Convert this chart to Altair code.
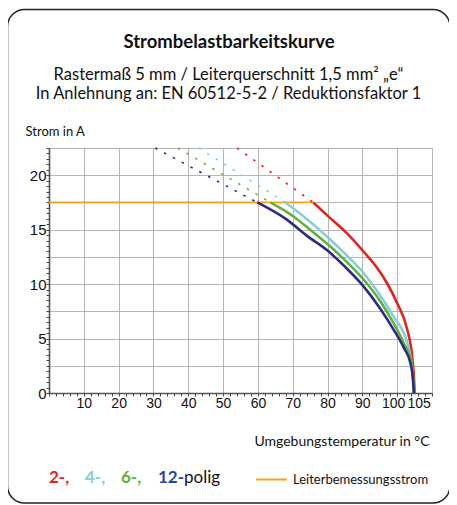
import altair as alt
import pandas as pd

# ---- data ----
series_names = ["2", "4", "6", "12"]
series_colors = ["#e3241b", "#86cfd4", "#62b23a", "#2e2a80"]

temp_2 = [75.9, 80.3, 85.6, 90.4, 94.0, 97.1, 100.0, 102.9, 104.3, 104.9, 105.0]
amp_2 = [17.5, 16.2, 14.66, 12.97, 11.6, 10.08, 8.25, 5.8, 3.35, 0.9, 0.0]

temp_4 = [67.9, 72.0, 79.9, 85.0, 90.4, 95.0, 99.0, 102.9, 104.4, 104.8]
amp_4 = [17.5, 16.5, 14.35, 12.8, 11.0, 9.0, 7.0, 4.6, 2.0, 0.0]

temp_6 = [63.6, 69.8, 75.0, 79.9, 85.0, 90.4, 95.0, 99.0, 102.0, 104.2, 104.8]
amp_6 = [17.5, 16.3, 15.0, 13.7, 12.2, 10.4, 8.5, 6.4, 4.5, 2.75, 0.0]

temp_12 = [59.8, 68.4, 74.0, 79.9, 85.0, 90.4, 95.0, 99.0, 102.0, 103.8, 104.6, 104.8]
amp_12 = [17.5, 15.9, 14.45, 13.1, 11.6, 9.77, 7.8, 5.8, 4.1, 2.75, 1.0, 0.0]

# dotted extensions above the rated current
dash_temp_2 = [54.0, 75.9]
dash_temp_4 = [43.0, 67.9]
dash_temp_6 = [37.0, 63.6]
dash_temp_12 = [30.5, 59.8]
dash_amp = [22.5, 17.5]

rated_temp = [0.0, 75.9]
rated_amp = [17.5, 17.5]

x_label_values = [10, 20, 30, 40, 50, 60, 70, 80, 90, 100, 105]
x_grid_values = [10, 20, 30, 40, 50, 60, 70, 80, 90, 100, 110]
x_minor_values = list(range(0, 111, 2))
y_label_values = [0, 5, 10, 15, 20]
y_grid_values = [2.5, 5, 7.5, 10, 12.5, 15, 17.5, 20, 22.5]
y_minor_values = [i * 0.5 for i in range(0, 46)]

# ---- tables ----
solid_rows = []
for name, ts, as_ in [("2", temp_2, amp_2), ("4", temp_4, amp_4),
                      ("6", temp_6, amp_6), ("12", temp_12, amp_12)]:
    for i, (t, a) in enumerate(zip(ts, as_)):
        solid_rows.append({"pol": name, "T": t, "I": a, "o": i})
solid_df = pd.DataFrame(solid_rows)

dash_rows = []
for name, ts in [("2", dash_temp_2), ("4", dash_temp_4),
                 ("6", dash_temp_6), ("12", dash_temp_12)]:
    for i, (t, a) in enumerate(zip(ts, dash_amp)):
        dash_rows.append({"pol": name, "T": t, "I": a, "o": i})
dash_df = pd.DataFrame(dash_rows)

rated_df = pd.DataFrame({"T": rated_temp, "I": rated_amp})
one = pd.DataFrame({"k": [0]})

xs = alt.Scale(domain=[0, 110], nice=False, zero=False)
ys = alt.Scale(domain=[0, 22.5], nice=False, zero=False)
cs = alt.Scale(domain=series_names, range=series_colors)

LABEL_FONT = "Liberation Sans Narrow, Liberation Sans, Arial"
TEXT_FONT = "Lato"

x_label_offset = {
    "condition": [
        {"test": "datum.value == 100", "value": -4},
        {"test": "datum.value == 105", "value": 4},
    ],
    "value": 0,
}

# orange rated current line -> carries the main (label) axes
rated = alt.Chart(rated_df).mark_line(color="#f7a21b", strokeWidth=1.8).encode(
    x=alt.X("T:Q", scale=xs, axis=alt.Axis(
        values=x_label_values, grid=False, orient="bottom",
        labelFont=LABEL_FONT, labelFontSize=14, labelColor="#111",
        labelOverlap=False, labelFlush=False, labelPadding=3,
        labelOffset=x_label_offset,
        ticks=False, domain=True, domainColor="#555", domainWidth=1.6,
        title="Umgebungstemperatur in °C", titleFont=TEXT_FONT,
        titleFontSize=14, titleFontWeight="normal", titleColor="#111",
        titleAnchor="end", titleAlign="right", titleBaseline="alphabetic",
        titleX=380, titleY=52)),
    y=alt.Y("I:Q", scale=ys, axis=alt.Axis(
        values=y_label_values, grid=False, orient="left",
        labelFont=LABEL_FONT, labelFontSize=15, labelColor="#111",
        labelOverlap=False, labelFlush=False, labelPadding=3,
        ticks=False, domain=True, domainColor="#555", domainWidth=1.6,
        title="Strom in A", titleFont=TEXT_FONT, titleFontSize=13,
        titleFontWeight="normal", titleColor="#111", titleAngle=0,
        titleAlign="left", titleBaseline="alphabetic",
        titleX=-24, titleY=-13)),
)

# dotted extensions -> carry the grid axes
dashed = alt.Chart(dash_df).mark_line(strokeWidth=1.6, strokeDash=[2.5, 7.5]).encode(
    x=alt.X("T:Q", scale=xs, axis=alt.Axis(
        values=x_grid_values, grid=True, gridColor="#b4b4b4", gridWidth=1,
        labels=False, ticks=False, domain=False, title=None, orient="bottom")),
    y=alt.Y("I:Q", scale=ys, axis=alt.Axis(
        values=y_grid_values, grid=True, gridColor="#b4b4b4", gridWidth=1,
        labels=False, ticks=False, domain=False, title=None, orient="left")),
    color=alt.Color("pol:N", scale=cs, legend=None),
    detail="pol:N",
    order="o:Q",
)

# solid curves -> carry the minor tick axes
solid = alt.Chart(solid_df).mark_line(strokeWidth=2.6, interpolate="monotone").encode(
    x=alt.X("T:Q", scale=xs, axis=alt.Axis(
        values=x_minor_values, grid=False, labels=False, ticks=True,
        tickSize=3, tickColor="#444", tickWidth=1, domain=False,
        title=None, orient="bottom")),
    y=alt.Y("I:Q", scale=ys, axis=alt.Axis(
        values=y_minor_values, grid=False, labels=False, ticks=True,
        tickSize=3, tickColor="#444", tickWidth=1, domain=False,
        title=None, orient="left")),
    color=alt.Color("pol:N", scale=cs, legend=None),
    detail="pol:N",
    order="o:Q",
)

# frame
frame = alt.Chart(one).mark_rect(
    cornerRadius=17, fillOpacity=0, fill="white", stroke="#222", strokeWidth=1.5
).encode(x=alt.value(-41.5), x2=alt.value(401), y=alt.value(-138.5), y2=alt.value(355))


def txt(s, x, y, size, color="#111", weight="normal", align="center", font=TEXT_FONT):
    return alt.Chart(one).mark_text(
        text=s, font=font, fontSize=size, fontWeight=weight, color=color,
        align=align, baseline="alphabetic"
    ).encode(x=alt.value(x), y=alt.value(y))


title = txt("Strombelastbarkeitskurve", 180, -100, 18.5, weight="bold")
sub1 = txt("Rastermaß 5 mm / Leiterquerschnitt 1,5 mm² „e“", 179.5, -68, 16.5)
sub2 = txt("In Anlehnung an: EN 60512-5-2 / Reduktionsfaktor 1", 179.5, -49, 16.5)

leg2 = txt("2-,", 0, 335, 17, color="#e3241b", weight="bold", align="left")
leg4 = txt("4-,", 36, 335, 17, color="#86cfd4", weight="bold", align="left")
leg6 = txt("6-,", 72, 335, 17, color="#5cb232", weight="bold", align="left")
leg12 = txt("12-", 109, 335, 17, color="#24479a", weight="bold", align="left")
legp = txt("polig", 135, 335, 17, align="left")
leg_line = alt.Chart(one).mark_rule(color="#f7a21b", strokeWidth=2).encode(
    x=alt.value(207), x2=alt.value(238), y=alt.value(331.5))
leg_txt = txt("Leiterbemessungsstrom", 244, 336, 13, align="left")

chart = alt.layer(
    frame, rated, dashed, solid, title, sub1, sub2,
    leg2, leg4, leg6, leg12, legp, leg_line, leg_txt
).resolve_axis(x="independent", y="independent").properties(
    width=383, height=245,
    autosize=alt.AutoSizeParams(type="none"),
    padding={"left": 41, "top": 140, "right": 17, "bottom": 112},
    background="white",
).configure_view(stroke=None)

chart.save("out.html", embed_options={"renderer": "svg", "actions": False})
